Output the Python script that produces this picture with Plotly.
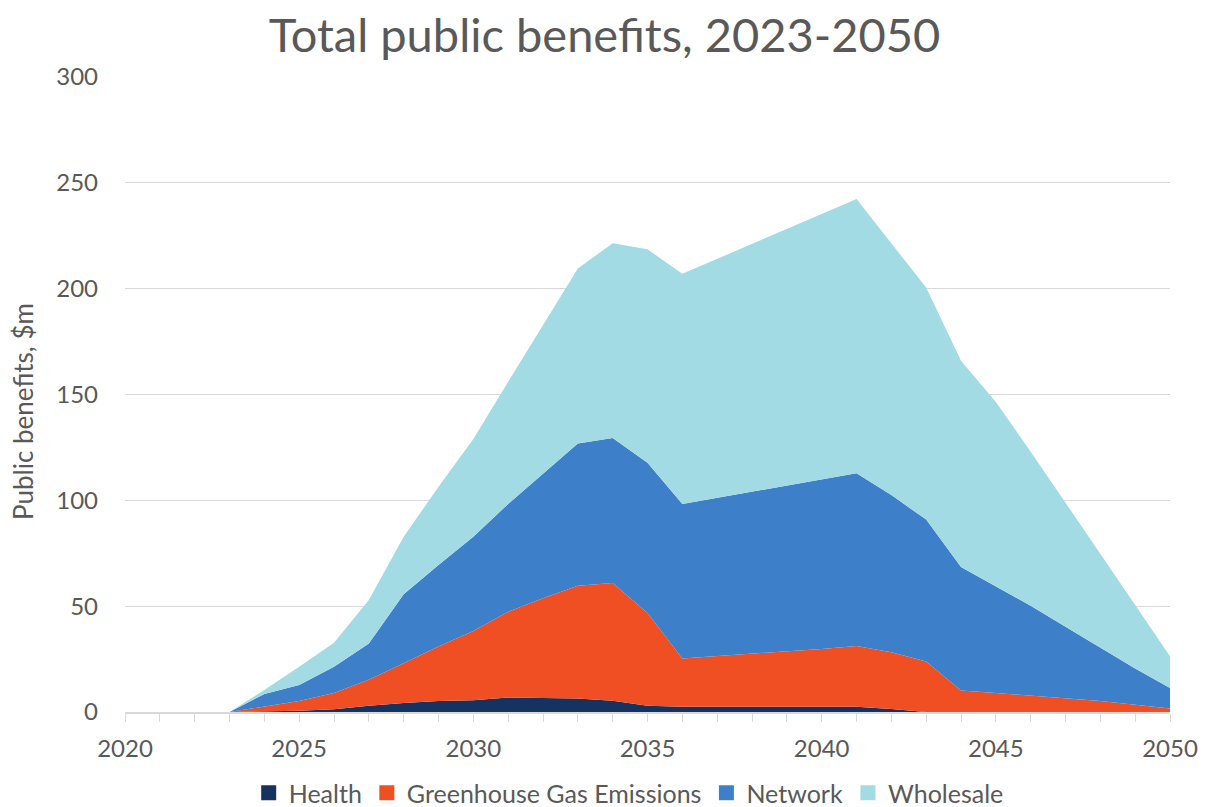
import plotly.graph_objects as go

# Annual public benefits by component, $m
years = list(range(2023, 2051))

health = [0, 0.3, 0.6, 1.3, 3.0, 4.2, 5.2, 5.6, 6.8, 6.6, 6.4, 5.3, 2.9, 2.5,
          2.5, 2.5, 2.5, 2.5, 2.5, 1.4, 0, 0, 0, 0, 0, 0, 0, 0]
greenhouse = [0, 2.3, 4.6, 7.7, 12.2, 18.8, 25.8, 32.7, 40.6, 47.1, 53.3, 55.6,
              43.9, 22.8, 23.9, 25.0, 26.1, 27.3, 28.7, 26.8, 23.9, 10.2, 9.0,
              7.8, 6.3, 5.2, 3.4, 1.6]
network = [0, 5.9, 7.6, 12.4, 17.2, 32.6, 38.4, 44.5, 50.9, 58.7, 67.2, 68.6,
           71.0, 73.0, 74.8, 76.7, 78.5, 80.2, 81.6, 74.3, 67.0, 58.3, 50.4,
           42.4, 34.0, 25.1, 17.2, 9.7]
wholesale = [0, 1.9, 8.6, 11.3, 20.5, 27.2, 37.0, 46.2, 57.7, 70.1, 82.6, 92.0,
             100.8, 108.7, 112.8, 116.9, 121.1, 125.3, 129.6, 119.0, 109.6,
             97.5, 87.1, 72.8, 58.7, 44.5, 30.0, 15.0]

series = [
    ("Health", health, "#15335e"),
    ("Greenhouse Gas Emissions", greenhouse, "#ef4f23"),
    ("Network", network, "#3d80c9"),
    ("Wholesale", wholesale, "#a3dbe5"),
]

FONT = "Lato"
GREY = "#595959"
GRID = "#d9d9d9"

fig = go.Figure()

for name, vals, color in series:
    fig.add_trace(go.Scatter(
        x=years, y=vals, name=name, stackgroup="one", mode="lines",
        line=dict(width=0, color=color), fillcolor=color,
        showlegend=False, hoverinfo="x+y+name",
    ))

# square legend keys
for name, vals, color in series:
    fig.add_trace(go.Scatter(
        x=[None], y=[None], name=name, mode="markers",
        marker=dict(symbol="square", size=15, color=color),
        showlegend=True,
    ))

fig.update_layout(
    width=1209, height=807,
    margin=dict(l=125, r=39, t=77, b=95, autoexpand=False),
    paper_bgcolor="white", plot_bgcolor="white",
    font=dict(family=FONT, color=GREY, size=24),
    title=dict(
        text="Total public benefits, 2023-2050",
        font=dict(family=FONT, size=47, color=GREY),
        x=0.5, xanchor="center", xref="container",
        y=1 - 36 / 807, yanchor="middle",
    ),
    legend=dict(
        orientation="h", x=0.482, xanchor="center",
        y=(712 - 770) / 635, yanchor="top",
        font=dict(family=FONT, size=25, color=GREY),
        itemwidth=30, traceorder="normal",
        bgcolor="rgba(0,0,0,0)", borderwidth=0,
    ),
    xaxis=dict(
        range=[2020, 2050], dtick=5, tick0=2020,
        showgrid=False, zeroline=False,
        showline=True, linecolor=GRID, linewidth=1.5,
        ticks="outside", ticklen=8, tickcolor=GRID, tickwidth=1,
        minor=dict(dtick=1, tick0=2020, ticks="outside", ticklen=8,
                   tickcolor=GRID, tickwidth=1, showgrid=False),
        tickfont=dict(family=FONT, size=24, color=GREY),
        ticklabelstandoff=6,
    ),
    yaxis=dict(
        range=[0, 300], dtick=50,
        showgrid=True, gridcolor=GRID, gridwidth=1.3,
        zeroline=False, showline=False, ticks="",
        tickfont=dict(family=FONT, size=24, color=GREY),
        ticklabelstandoff=26,
    ),
    annotations=[dict(
        text="Public benefits, $m", textangle=-90,
        xref="paper", yref="paper",
        x=(23 - 125) / 1045, y=(712 - 412) / 635,
        xanchor="center", yanchor="middle", showarrow=False,
        font=dict(family=FONT, size=26, color=GREY),
    )],
)

fig.write_html("out.html")
